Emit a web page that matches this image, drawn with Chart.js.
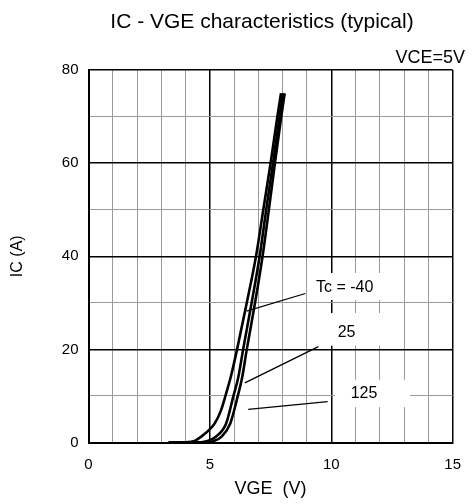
<!DOCTYPE html>
<html>
<head>
<meta charset="utf-8">
<script src="https://cdn.jsdelivr.net/npm/chart.js@4"></script>
<style>
  html, body { margin: 0; padding: 0; background: #fff; }
  #wrap { width: 474px; height: 504px; }
</style>
</head>
<body>
<div id="wrap"><canvas id="ivChart" width="474" height="504"></canvas></div>
<script>
// curve readings (VGE in V, IC in A)
const vgeM40 = [3.3, 4.0, 4.4, 4.63, 4.95, 5.2, 5.45, 5.64, 5.88, 6.12, 6.52, 6.9, 7.2, 7.5, 7.78, 7.93];
const icM40  = [0,   0.05, 0.4, 1.2, 2.6, 4.1, 6.8, 10,   14.5, 20,   30,   40,  50,  60,  70,   75];

const vge25 = [3.3, 4.5, 4.9, 5.23, 5.67, 5.97, 6.17, 6.37, 6.72, 7.05, 7.32, 7.6, 7.87, 8.01];
const ic25  = [0,   0,   0.3, 1.2,  4.1,  10,   14,   20,   30,   40,   50,   60,  70,   75];

const vge125 = [3.3, 4.8, 5.15, 5.47, 5.84, 6.15, 6.33, 6.52, 6.86, 7.17, 7.43, 7.68, 7.94, 8.08];
const ic125  = [0,   0,   0.3,  1.2,  4.1,  10,   14,   20,   30,   40,   50,   60,   70,   75];

// leader lines: [from label, to curve]
const leaderM40 = [[8.93, 32.0], [6.51, 28.2]];
const leader25  = [[9.47, 20.6], [6.44, 12.8]];
const leader125 = [[9.85, 8.8],  [6.58, 7.1]];

// label text, centre (data units), white box [x0, x1, y0, y1] (data units)
const labels = [
    { text: 'Tc = -40', x: 10.55, y: 33.3, box: [9.0, 12.05, 30.6, 36.4] },
    { text: '25',       x: 10.63, y: 23.7, box: [9.45, 12.05, 20.8, 27.8] },
    { text: '125',      x: 11.35, y: 10.4, box: [10.15, 13.25, 7.6, 13.4] }
];

const xTickLabels = [0, 5, 10, 15];
const yTickLabels = [0, 20, 40, 60, 80];

const toPts = (xs, ys) => xs.map((x, i) => ({ x: x, y: ys[i] }));

const curveStyle = {
    borderColor: '#000',
    borderWidth: 2.6,
    pointRadius: 0,
    showLine: true,
    tension: 0.4,
    cubicInterpolationMode: 'monotone'
};
const leaderStyle = {
    borderColor: '#000',
    borderWidth: 1.3,
    pointRadius: 0,
    showLine: true,
    tension: 0
};

// white boxes behind the annotation labels + free text
const textPlugin = {
    id: 'textPlugin',
    beforeDatasetsDraw(chart) {
        const c = chart.ctx, xs = chart.scales.x, ys = chart.scales.y;
        c.save();
        c.fillStyle = '#fff';
        labels.forEach(l => {
            const x0 = xs.getPixelForValue(l.box[0]), x1 = xs.getPixelForValue(l.box[1]);
            const y0 = ys.getPixelForValue(l.box[3]), y1 = ys.getPixelForValue(l.box[2]);
            c.fillRect(x0, y0, x1 - x0, y1 - y0);
        });
        c.restore();
    },
    afterDraw(chart) {
        const c = chart.ctx, xs = chart.scales.x, ys = chart.scales.y;
        c.save();
        c.fillStyle = '#000';
        c.textBaseline = 'middle';
        c.textAlign = 'center';
        c.font = '16px "Liberation Sans", Arial, sans-serif';
        labels.forEach(l => {
            c.fillText(l.text, xs.getPixelForValue(l.x), ys.getPixelForValue(l.y));
        });
        c.font = '21px "Liberation Sans", Arial, sans-serif';
        c.textBaseline = 'alphabetic';
        c.fillText('IC - VGE characteristics (typical)', 262, 28);
        c.textAlign = 'right';
        c.font = '18px "Liberation Sans", Arial, sans-serif';
        c.fillText('VCE=5V', 465, 63);
        c.restore();
    }
};

const ctx = document.getElementById('ivChart').getContext('2d');
new Chart(ctx, {
    type: 'scatter',
    data: {
        datasets: [
            Object.assign({ label: '-40', data: toPts(vgeM40, icM40) }, curveStyle),
            Object.assign({ label: '25', data: toPts(vge25, ic25) }, curveStyle),
            Object.assign({ label: '125', data: toPts(vge125, ic125) }, curveStyle),
            Object.assign({ label: 'l1', data: leaderM40.map(p => ({ x: p[0], y: p[1] })) }, leaderStyle),
            Object.assign({ label: 'l2', data: leader25.map(p => ({ x: p[0], y: p[1] })) }, leaderStyle),
            Object.assign({ label: 'l3', data: leader125.map(p => ({ x: p[0], y: p[1] })) }, leaderStyle)
        ]
    },
    options: {
        responsive: false,
        animation: false,
        layout: { padding: { top: 70, right: 13, left: 0, bottom: 0 } },
        plugins: { legend: { display: false }, tooltip: { enabled: false } },
        scales: {
            x: {
                type: 'linear', min: 0, max: 15,
                afterFit: s => { s.height = 61.5; },
                ticks: {
                    stepSize: 1, padding: 13, color: '#000',
                    font: { family: '"Liberation Sans", Arial', size: 15 },
                    autoSkip: false, maxRotation: 0,
                    callback: v => xTickLabels.includes(v) ? String(v) : ''
                },
                grid: {
                    drawTicks: false,
                    color: c => (c.tick && c.tick.value % 5 === 0) ? '#000' : '#9a9a9a',
                    lineWidth: c => (c.tick && c.tick.value % 5 === 0) ? 1.5 : 1
                },
                border: { color: '#000', width: 2 },
                title: {
                    display: true, text: 'VGE  (V)', color: '#000',
                    font: { family: '"Liberation Sans", Arial', size: 18 },
                    padding: { top: 0, bottom: 4 }
                }
            },
            y: {
                type: 'linear', min: 0, max: 80,
                afterFit: s => { s.width = 88.5; },
                ticks: {
                    stepSize: 10, padding: 10, color: '#000',
                    font: { family: '"Liberation Sans", Arial', size: 15 },
                    autoSkip: false,
                    callback: v => yTickLabels.includes(v) ? String(v) : ''
                },
                grid: {
                    drawTicks: false,
                    color: c => (c.tick && c.tick.value % 20 === 0) ? '#000' : '#9a9a9a',
                    lineWidth: c => (c.tick && c.tick.value % 20 === 0) ? 1.5 : 1
                },
                border: { color: '#000', width: 2 },
                title: {
                    display: true, text: 'IC (A)', color: '#000',
                    font: { family: '"Liberation Sans", Arial', size: 16 },
                    padding: { top: 8, bottom: 0 }
                }
            }
        }
    },
    plugins: [textPlugin]
});
</script>
</body>
</html>
